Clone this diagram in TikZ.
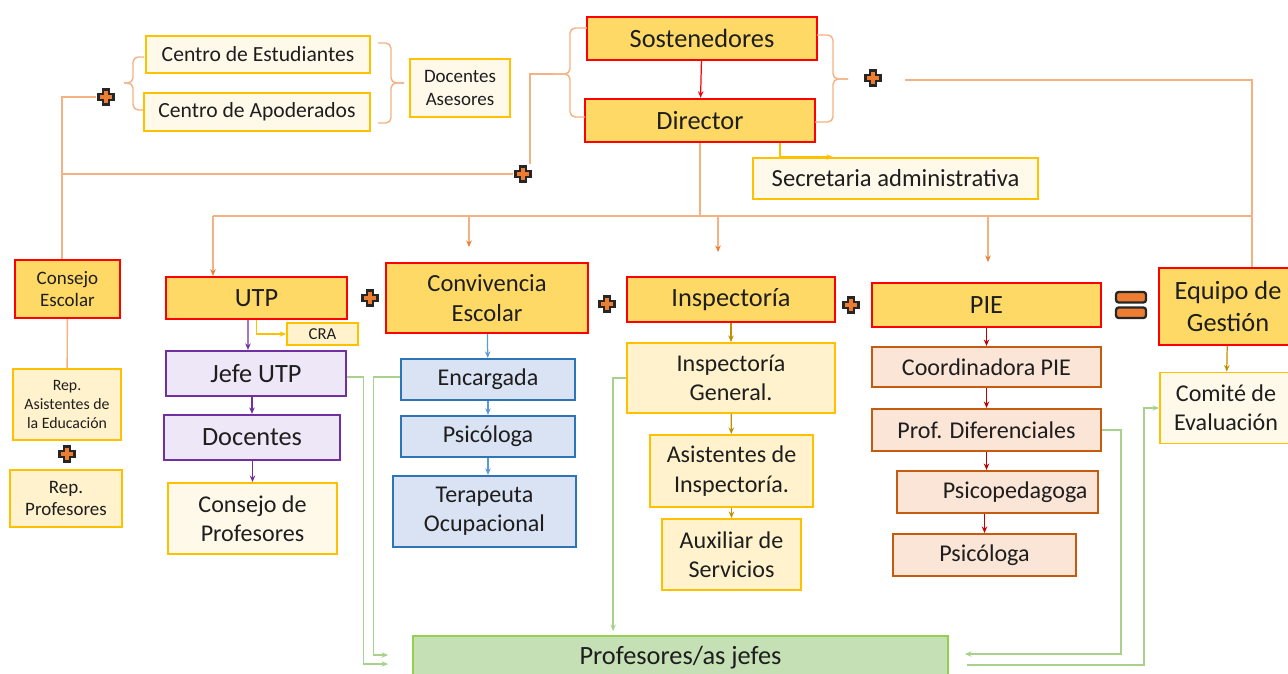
\documentclass[tikz,border=0pt]{standalone}
\usepackage{fontspec}
\setmainfont{Carlito}
\usepackage{tikz}
\usetikzlibrary{arrows.meta, calc}
\definecolor{redborder}{RGB}{255,0,0}
\definecolor{goldfill}{RGB}{255,217,102}
\definecolor{amber}{RGB}{255,192,0}
\definecolor{creamfill}{RGB}{255,242,204}
\definecolor{palecream}{RGB}{255,249,234}
\definecolor{utppurple}{RGB}{112,48,160}
\definecolor{lavender}{RGB}{238,231,247}
\definecolor{convblue}{RGB}{46,117,182}
\definecolor{iceblue}{RGB}{218,227,243}
\definecolor{rust}{RGB}{197,90,17}
\definecolor{peach}{RGB}{251,229,214}
\definecolor{leafgreen}{RGB}{146,208,80}
\definecolor{mossfill}{RGB}{197,224,180}
\definecolor{greenline}{RGB}{169,209,142}
\definecolor{salmon}{RGB}{244,177,131}
\definecolor{plusorange}{RGB}{237,125,49}
\definecolor{darkgold}{RGB}{191,144,0}
\definecolor{darkred}{RGB}{192,0,0}
\definecolor{skyblue}{RGB}{91,155,213}
\definecolor{inktext}{RGB}{30,30,30}

\begin{document}
\begin{tikzpicture}[
    x=0.02cm, y=-0.02cm,
    box/.style={draw, rectangle, align=center, inner sep=2pt, text=inktext},
    redbox/.style={box, draw=redborder, fill=goldfill, line width=1.4pt},
    yellowbox/.style={box, draw=amber, fill=creamfill, line width=1.1pt},
    palebox/.style={box, draw=amber, fill=palecream, line width=1.1pt},
    purplebox/.style={box, draw=utppurple, fill=lavender, line width=1.3pt},
    bluebox/.style={box, draw=convblue, fill=iceblue, line width=1.3pt},
    brownbox/.style={box, draw=rust, fill=peach, line width=1.2pt},
    greenbox/.style={box, draw=leafgreen, fill=mossfill, line width=1.1pt},
    hugefont/.style={font=\fontsize{15}{18}\selectfont},
    bigfont/.style={font=\fontsize{14}{17}\selectfont},
    midfont/.style={font=\fontsize{13.7}{16.6}\selectfont},
    centrofont/.style={font=\fontsize{12.3}{15}\selectfont},
    smallfont/.style={font=\fontsize{10.8}{13}\selectfont},
    tinyfont/.style={font=\fontsize{9}{10.8}\selectfont},
    crafont/.style={font=\fontsize{9.5}{11}\selectfont},
    conn/.style={draw=salmon, line width=0.8pt},
    brace/.style={conn, rounded corners=3pt},
    arrow/.style={-{Stealth[length=1.3mm, width=1.1mm]}, line width=0.7pt},
    connarrow/.style={arrow, draw=salmon, -{Stealth[length=1.3mm, width=1.1mm, color=plusorange]}},
    redarrow/.style={arrow, draw=redborder},
    yellowarrow/.style={arrow, draw=amber},
    purplearrow/.style={arrow, draw=utppurple},
    bluearrow/.style={arrow, draw=skyblue},
    goldarrow/.style={arrow, draw=darkgold},
    piearrow/.style={arrow, draw=darkred},
    greenarrow/.style={arrow, draw=greenline},
    plussign/.style={minimum size=0.4cm, inner sep=0pt, path picture={
        \draw[black!85, line width=1.2pt, fill=plusorange, shift={(path picture bounding box.center)}]
        (-3.2,-7.5) -- (3.2,-7.5) -- (3.2,-3.2) -- (7.5,-3.2) -- (7.5,3.2) -- (3.2,3.2) -- (3.2,7.5)
        -- (-3.2,7.5) -- (-3.2,3.2) -- (-7.5,3.2) -- (-7.5,-3.2) -- (-3.2,-3.2) -- cycle;}},
    eqsign/.style={minimum width=0.72cm, minimum height=0.64cm, inner sep=0pt, path picture={
        \draw[black!85, line width=1.3pt, fill=plusorange, rounded corners=1.5pt, shift={(path picture bounding box.center)}]
        (-15,-13) rectangle (15,-2.5) (-15,2.5) rectangle (15,13);}}
]
    \useasboundingbox (0,0) rectangle (1288,673);

    % Sostenedores and director
    \node[redbox, hugefont, minimum width=4.6cm, minimum height=0.86cm] (sost) at (702,38.5) {Sostenedores};
    \node[redbox, hugefont, minimum width=4.6cm, minimum height=0.86cm] (dir) at (700,120.5) {Director};
    \node[palebox, bigfont, minimum width=5.7cm, minimum height=0.82cm] (secr) at (895.5,178.5) {Secretaria administrativa};

    % Centros and advisers
    \node[palebox, centrofont, minimum width=4.48cm, minimum height=0.74cm] (cest) at (258,54.5) {Centro de Estudiantes};
    \node[palebox, centrofont, minimum width=4.52cm, minimum height=0.76cm] (capo) at (257,112) {Centro de Apoderados};
    \node[palebox, smallfont, minimum width=2cm, minimum height=1.16cm] (doca) at (460,88) {Docentes\\Asesores};

    % Consejo escolar
    \node[redbox, smallfont, minimum width=2.1cm, minimum height=1.16cm] (cesc) at (67.5,289) {Consejo\\Escolar};
    \node[yellowbox, tinyfont, minimum width=2.16cm, minimum height=1.42cm] (rasis) at (67,404.5) {Rep.\\Asistentes de\\la Educación};
    \node[yellowbox, smallfont, minimum width=2.24cm, minimum height=1.14cm] (rprof) at (66,498.5) {Rep.\\Profesores};

    % UTP
    \node[redbox, hugefont, minimum width=3.62cm, minimum height=0.84cm] (utp) at (256.5,298) {UTP};
    \node[yellowbox, crafont, inner sep=1pt, minimum width=1.42cm, minimum height=0.44cm] (cra) at (322.5,334) {CRA};
    \node[purplebox, hugefont, minimum width=3.6cm, minimum height=0.9cm] (jefe) at (256,373.5) {Jefe UTP};
    \node[purplebox, hugefont, minimum width=3.52cm, minimum height=0.9cm] (doce) at (252,437.5) {Docentes};
    \node[palebox, midfont, minimum width=3.38cm, minimum height=1.42cm] (cprof) at (252.5,518.5) {Consejo de\\Profesores};

    % Convivencia escolar
    \node[redbox, bigfont, minimum width=4.04cm, minimum height=1.4cm] (conv) at (487,298) {Convivencia\\Escolar};
    \node[bluebox, midfont, minimum width=3.48cm, minimum height=0.82cm] (enc) at (488,379.5) {Encargada};
    \node[bluebox, midfont, minimum width=3.48cm, minimum height=0.82cm] (psic) at (488,436.5) {Psicóloga};
    \node[bluebox, midfont, minimum width=3.66cm, minimum height=1.42cm] (tera) at (484.5,511.5) {Terapeuta\\Ocupacional};

    % Inspectoria
    \node[redbox, hugefont, minimum width=4.16cm, minimum height=0.9cm] (insp) at (731,299.5) {Inspectoría};
    \node[yellowbox, midfont, minimum width=4.16cm, minimum height=1.4cm] (ingen) at (731,378) {Inspectoría\\General.};
    \node[yellowbox, midfont, minimum width=3.26cm, minimum height=1.44cm] (asis) at (731.5,471) {Asistentes de\\Inspectoría.};
    \node[yellowbox, midfont, minimum width=2.78cm, minimum height=1.42cm] (aux) at (731.5,554.5) {Auxiliar de\\Servicios};

    % PIE
    \node[redbox, hugefont, minimum width=4.58cm, minimum height=0.88cm] (pie) at (986.5,305) {PIE};
    \node[brownbox, midfont, minimum width=4.58cm, minimum height=0.8cm] (coord) at (986.5,367) {Coordinadora PIE};
    \node[brownbox, midfont, minimum width=4.58cm, minimum height=0.84cm] (pdif) at (986.5,430) {Prof. Diferenciales};
    \node[brownbox, midfont, minimum width=4.02cm, minimum height=0.84cm, text width=3.6cm, align=right] (ppeda) at (997.5,492) {Psicopedagoga};
    \node[brownbox, midfont, minimum width=3.66cm, minimum height=0.84cm] (ppsic) at (984.5,555) {Psicóloga};

    % Equipo de gestion
    \node[redbox, hugefont, minimum width=2.76cm, minimum height=1.54cm] (equi) at (1228,306.5) {Equipo de\\Gestión};
    \node[palebox, midfont, minimum width=2.64cm, minimum height=1.42cm] (comi) at (1226,408) {Comité de\\Evaluación};

    % Profesores jefes
    \node[greenbox, hugefont, minimum width=10.7cm, minimum height=0.88cm] (pjef) at (680.5,658) {Profesores/as jefes};

    % Signs
    \node[plussign] (pl1) at (106,97) {};
    \node[plussign] (pl2) at (523,174) {};
    \node[plussign] (pl3) at (873,78) {};
    \node[plussign] (pl4) at (67,454) {};
    \node[plussign] (pl5) at (370,298) {};
    \node[plussign] (pl6) at (607,304) {};
    \node[plussign] (pl7) at (851,305) {};
    \node[eqsign] (eq) at (1131,305) {};

    % Braces
    \coordinate (lbrace) at (553,74);
    \coordinate (rbrace) at (848,79);
    \draw[brace] (587,28) -| (570,74) -- (lbrace);
    \draw[brace] (lbrace) -- (570,74) |- (585,117);
    \draw[brace] (817,35) -| (833,79) -- (rbrace);
    \draw[brace] (rbrace) -- (833,79) |- (815,122);
    \draw[brace] (144,57) -| (133,83) -- (124,83);
    \draw[brace] (124,83) -- (133,83) |- (143,110);
    \draw[brace] (378,43) -| (391,83) -- (404,83);
    \draw[brace] (404,83) -- (391,83) |- (378,123);

    % Orange connectors
    \coordinate (trunk) at (62,174);
    \coordinate (hub) at (700,216);
    \coordinate (hubL) at (213,216);
    \coordinate (hubR) at (1252,216);
    \coordinate (tconv) at (469,247);
    \coordinate (tinsp) at (718,252);
    \coordinate (tpie) at (988,262);
    \draw[conn] (cesc.north -| trunk) -- (trunk) |- (pl1.west);
    \draw[conn] (trunk) -- (pl2.west);
    \draw[conn] ([xshift=0.14cm]pl2.north) |- (lbrace);
    \draw[conn] ($(pl3)+(32,2)$) -| (hubR |- equi.north);
    \draw[conn] (dir) -- (hub);
    \draw[conn] (hubL) -- (hubR);
    \draw[connarrow] (hubL) -- (hubL |- utp.north);
    \draw[connarrow] (tconv |- hub) -- (tconv);
    \draw[connarrow] (tinsp |- hub) -- (tinsp);
    \draw[connarrow] (tpie |- hub) -- (tpie);
    \draw[conn] (cesc) -- (rasis);

    % Arrows inside the areas
    \draw[redarrow] (sost) -- (dir);
    \draw[yellowarrow] ([xshift=1.6cm]dir.south) |- ([xshift=-1.25cm]secr.north);
    \draw[yellowarrow] (utp.south) |- (cra.west);
    \draw[purplearrow] ([xshift=-0.17cm]utp.south) -- ([xshift=-0.16cm]jefe.north);
    \draw[purplearrow] (jefe.south -| doce.north) -- (doce.north);
    \draw[purplearrow] (doce.south -| cprof.north) -- (cprof.north);
    \draw[bluearrow] (conv) -- (enc);
    \draw[bluearrow] (enc) -- (psic);
    \draw[bluearrow] (psic.south) -- (psic.south |- tera.north);
    \draw[goldarrow] (insp) -- (ingen);
    \draw[goldarrow] (ingen) -- (asis);
    \draw[goldarrow] (asis) -- (aux);
    \draw[goldarrow] (equi) -- (comi);
    \draw[piearrow] (pie) -- (coord);
    \draw[piearrow] (coord) -- (pdif);
    \draw[piearrow] (pdif.south) -- (pdif.south |- ppeda.north);
    \draw[piearrow] (ppsic.north |- ppeda.south) -- (ppsic.north);

    % Green connectors to profesores jefes
    \coordinate (gin1) at ($(pjef.west)+(-24,6)$);
    \coordinate (gin2) at ($(pjef.west)+(-24,-3)$);
    \coordinate (gin3) at ($(pjef.north west)+(201,-4)$);
    \coordinate (gin4) at ($(pjef.east)+(16,-4)$);
    \coordinate (gout) at ($(pjef.east)+(18,7)$);
    \draw[greenarrow] ([yshift=-0.07cm]jefe.east) -- ++(16,0) |- (gin1);
    \draw[greenarrow] ([yshift=0.05cm]enc.west) -- ++(-26,0) |- (gin2);
    \draw[greenarrow] (ingen.west) -| (gin3);
    \draw[greenarrow] (pdif.east) -- ++(19,0) |- (gin4);
    \draw[greenarrow] (gout) -| ($(comi.west)+(-15,0)$) -- (comi.west);
\end{tikzpicture}
\end{document}
